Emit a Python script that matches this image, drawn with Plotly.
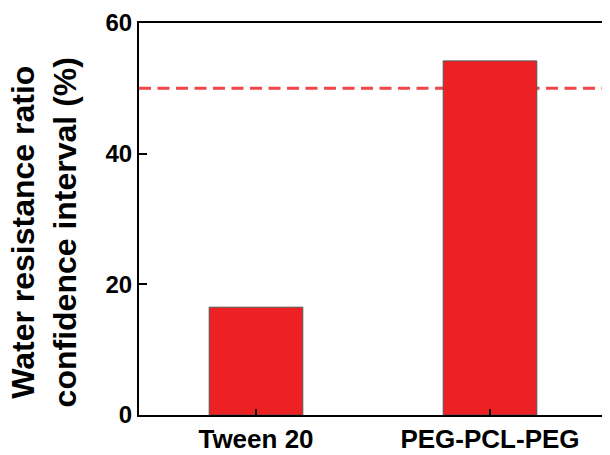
import plotly.graph_objects as go

categories = ["Tween 20", "PEG-PCL-PEG"]
values = [16.5, 54.2]
threshold = 50
y_ticks = [0, 20, 40, 60]

fig = go.Figure()
fig.add_trace(go.Bar(
    x=categories, y=values, width=0.4,
    marker=dict(color="#ED2024", line=dict(color="#555555", width=1)),
    showlegend=False,
))

fig.add_shape(type="line", xref="paper", yref="y", x0=0, x1=1, y0=threshold, y1=threshold,
              line=dict(color="#F0464A", width=3, dash="12px,6.5px"), layer="below")

font = "Liberation Sans, Arial, sans-serif"
L, R, T, B, W, H = 131, 1, 12, 34, 602, 447
PW = W - L - R
fig.update_layout(
    width=W, height=H,
    margin=dict(l=L, r=R, t=T, b=B),
    plot_bgcolor="white", paper_bgcolor="white",
    font=dict(family=font, color="black"),
)
fig.update_xaxes(
    range=[-0.5, 1.5], showline=True, linecolor="black", linewidth=2, mirror=True,
    ticks="inside", ticklen=6, tickwidth=2, tickcolor="black",
    tickfont=dict(size=26, family=font, weight="bold"), showgrid=False,
)
fig.update_yaxes(
    range=[0, 60], tickvals=y_ticks, showline=True, linecolor="black", linewidth=2, mirror=True,
    ticks="inside", ticklen=8, tickwidth=2, tickcolor="black", ticklabeloverflow="allow",
    tickfont=dict(size=24, family=font, weight="bold"), showgrid=False, zeroline=False,
)
fig.add_annotation(
    text="Water resistance ratio<br>confidence interval (%)",
    xref="paper", yref="paper", x=(36 - L) / PW, y=0.5, yshift=-13,
    xanchor="center", yanchor="middle", textangle=-90, showarrow=False,
    font=dict(size=32, family=font, weight="bold", color="black"),
)
fig.write_html("out.html")
